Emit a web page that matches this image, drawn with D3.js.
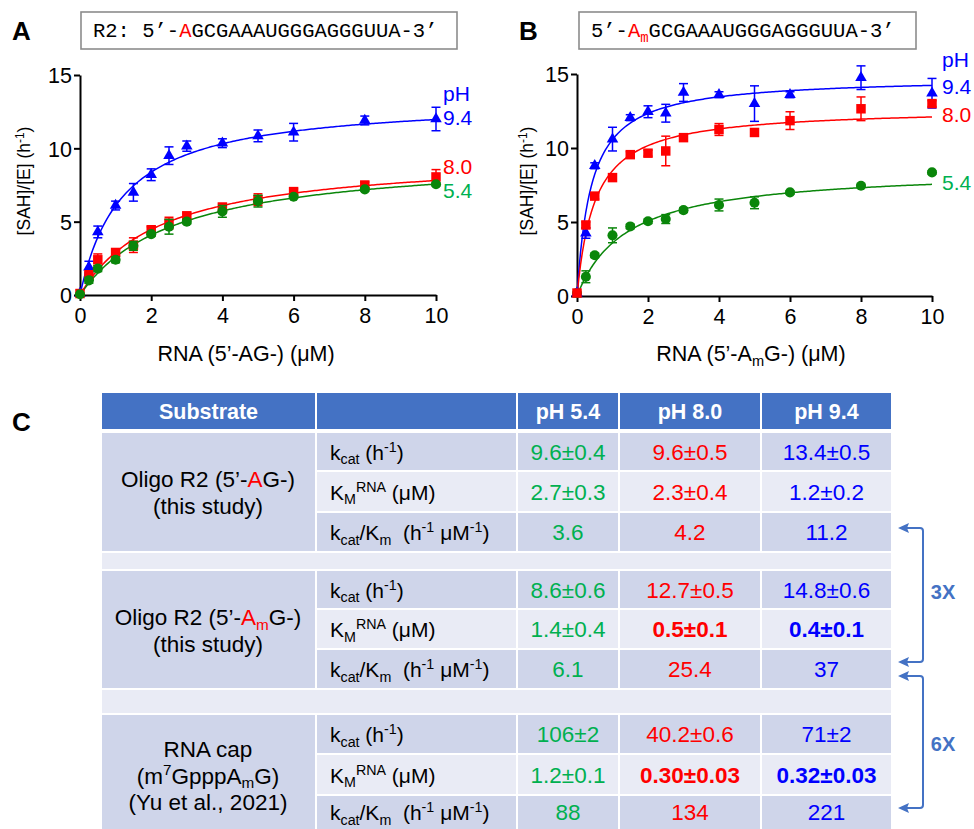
<!DOCTYPE html>
<html><head><meta charset="utf-8">
<script src="https://cdn.jsdelivr.net/npm/d3@7"></script>
<style>
body{margin:0;background:#fff}
svg{display:block;font-family:"Liberation Sans",Arial,sans-serif}
text{white-space:pre}
</style>
</head><body>
<svg id="c" width="974" height="829"></svg>
<script>
// ---------------- DATA ----------------
const concentrations = [0, 0.25, 0.5, 1, 1.5, 2, 2.5, 3, 4, 5, 6, 8, 10];
const phLabels = ["5.4", "8.0", "9.4"];
const xTicks = [0, 2, 4, 6, 8, 10];
const yTicks = [0, 5, 10, 15];

// Panel A: 5'-AG- substrate
const A_pH54 = [0.05, 1.0, 1.8, 2.4, 3.35, 4.15, 4.65, 5.0, 5.7, 6.4, 6.7, 7.2, 7.55];
const A_pH54_err = [0, 0.2, 0.2, 0.2, 0.3, 0.15, 0.5, 0.15, 0.4, 0.4, 0.1, 0.1, 0.1];
const A_pH80 = [0.1, 1.35, 2.4, 2.9, 3.4, 4.45, 4.9, 5.4, 6.0, 6.5, 7.05, 7.5, 8.05];
const A_pH80_err = [0, 0.3, 0.4, 0.2, 0.5, 0.2, 0.4, 0.2, 0.2, 0.4, 0.2, 0.2, 0.5];
const A_pH94 = [0.1, 1.9, 4.3, 6.1, 7.0, 8.2, 9.5, 10.15, 10.35, 10.85, 11.1, 11.9, 12.0];
const A_pH94_err = [0, 0.4, 0.4, 0.3, 0.6, 0.4, 0.6, 0.35, 0.3, 0.4, 0.6, 0.3, 0.8];

// Panel B: 5'-AmG- substrate
const B_pH54 = [0.2, 1.3, 2.75, 4.1, 4.7, 5.05, 5.2, 5.8, 6.15, 6.3, 7.0, 7.45, 8.35];
const B_pH54_err = [0, 0.4, 0.15, 0.5, 0.15, 0.15, 0.3, 0.15, 0.4, 0.4, 0.1, 0.1, 0.1];
const B_pH80 = [0.2, 4.8, 6.75, 8.0, 9.55, 9.65, 9.8, 10.7, 11.25, 11.05, 11.85, 12.65, 13.0];
const B_pH80_err = [0, 0.2, 0.2, 0.2, 0.2, 0.2, 1.0, 0.2, 0.4, 0.2, 0.6, 0.8, 0.2];
const B_pH94 = [0.2, 4.25, 8.8, 10.6, 12.05, 12.45, 12.35, 13.75, 13.6, 13.0, 13.6, 14.75, 13.7];
const B_pH94_err = [0, 0.35, 0.2, 0.8, 0.2, 0.4, 0.6, 0.6, 0.2, 1.2, 0.2, 0.8, 1.0];

// Kinetic parameters (Michaelis–Menten fits), order pH 5.4, 8.0, 9.4
const kcatA = [9.6, 9.6, 13.4];
const kmA = [2.7, 2.3, 1.2];
const kcatB = [8.6, 12.7, 14.8];
const kmB = [1.4, 0.5, 0.4];

// Table
const tableHeader = ["Substrate", "", "pH 5.4", "pH 8.0", "pH 9.4"];
const substrateLines = [
  [[["Oligo R2 (5’-"], ["A", "red"], ["G-)"]], [["(this study)"]]],
  [[["Oligo R2 (5’-"], ["A", "red"], ["m", "redsub"], ["G-)"]], [["(this study)"]]],
  [[["RNA cap"]], [["(m"], ["7", "sup"], ["GpppA"], ["m", "sub"], ["G)"]], [["(Yu et al., 2021)"]]]
];
const paramLabels = [
  [["k"], ["cat", "sub"], [" (h"], ["-1", "sup"], [")"]],
  [["K"], ["M", "sub"], ["RNA", "sup"], [" (μM)"]],
  [["k"], ["cat", "sub"], ["/K"], ["m", "sub"], ["  (h"], ["-1", "sup"], [" μM"], ["-1", "sup"], [")"]]
];
const tableValues = [
  [["9.6±0.4", "9.6±0.5", "13.4±0.5"], ["2.7±0.3", "2.3±0.4", "1.2±0.2"], ["3.6", "4.2", "11.2"]],
  [["8.6±0.6", "12.7±0.5", "14.8±0.6"], ["1.4±0.4", "0.5±0.1", "0.4±0.1"], ["6.1", "25.4", "37"]],
  [["106±2", "40.2±0.6", "71±2"], ["1.2±0.1", "0.30±0.03", "0.32±0.03"], ["88", "134", "221"]]
];
const boldValues = [
  [[0, 0, 0], [0, 0, 0], [0, 0, 0]],
  [[0, 0, 0], [0, 1, 1], [0, 0, 0]],
  [[0, 0, 0], [0, 1, 1], [0, 0, 0]]
];
const foldLabels = ["3X", "6X"];

// ---------------- STYLE ----------------
const markerColors = ["#0a860a", "#ff0000", "#0000ff"];
const labelColors = ["#00b050", "#ff0000", "#0000ff"];
const valueColors = ["#00b050", "#ff0000", "#0000ff"];
const symbols = [d3.symbolCircle, d3.symbolSquare, d3.symbolTriangle];
const symbolSizes = [80, 90, 58];
const accent = "#4472c4";

const svg = d3.select("#c");
const FONT = '"Liberation Sans",Arial,sans-serif';

function rich(textSel, parts, base) {
  let shift = 0;
  parts.forEach(([t, st]) => {
    st = st || "";
    const ts = textSel.append("tspan").text(t);
    let target = 0, fs = base;
    if (st.includes("sub")) { target = base * 0.22; fs = base * 0.68; }
    if (st.includes("sup")) { target = -base * 0.36; fs = base * 0.68; }
    const d = target - shift;
    if (d !== 0) ts.attr("dy", d);
    ts.style("font-size", fs + "px");
    if (st.includes("red")) ts.attr("fill", "#ff0000");
    shift = target;
  });
}

// ---------------- PANELS ----------------
function panel(cfg) {
  const x = d3.scaleLinear().domain([0, 10]).range([cfg.x0, cfg.x1]);
  const y = d3.scaleLinear().domain([0, 15]).range([cfg.y0, cfg.y1]);
  const g = svg.append("g");

  // axes
  const ax = g.append("g").attr("transform", `translate(0,${cfg.y0})`)
    .call(d3.axisBottom(x).tickValues(xTicks).tickSize(6).tickPadding(7).tickSizeOuter(0));
  const ay = g.append("g").attr("transform", `translate(${cfg.x0},0)`)
    .call(d3.axisLeft(y).tickValues(yTicks).tickSize(6).tickPadding(2).tickSizeOuter(0));
  [ax, ay].forEach(a => {
    a.selectAll("path,line").attr("stroke", "#000").attr("stroke-width", 2);
    a.selectAll("text").attr("font-family", FONT).style("font-size", "21.5px").attr("fill", "#000");
  });
  ay.selectAll("text").attr("dy", "0.36em");

  // fit curves
  const xs = d3.range(0, 10.001, 0.05);
  cfg.order.forEach(i => {
    const line = d3.line().x(d => x(d)).y(d => y(cfg.kcat[i] * d / (cfg.km[i] + d)));
    g.append("path").attr("d", line(xs)).attr("fill", "none")
      .attr("stroke", markerColors[i]).attr("stroke-width", 1.5);
  });

  // error bars + markers
  cfg.order.forEach(i => {
    const vals = cfg.series[i], errs = cfg.errs[i];
    const eg = g.append("g").attr("stroke", markerColors[i]).attr("stroke-width", 1.5);
    concentrations.forEach((c, k) => {
      const e = errs[k];
      if (!e) return;
      const cx = x(c), yt = y(vals[k] + e), yb = y(vals[k] - e);
      eg.append("line").attr("x1", cx).attr("x2", cx).attr("y1", yt).attr("y2", yb);
      eg.append("line").attr("x1", cx - 4.5).attr("x2", cx + 4.5).attr("y1", yt).attr("y2", yt);
      eg.append("line").attr("x1", cx - 4.5).attr("x2", cx + 4.5).attr("y1", yb).attr("y2", yb);
    });
    g.append("g").selectAll("path").data(concentrations).join("path")
      .attr("transform", (c, k) => `translate(${x(c)},${y(vals[k])})`)
      .attr("d", d3.symbol().type(symbols[i]).size(symbolSizes[i]))
      .attr("fill", markerColors[i]);
  });

  // pH labels
  g.append("text").attr("x", cfg.lx).attr("y", cfg.pHy).text("pH")
    .attr("fill", labelColors[2]).style("font-size", "21px");
  [0, 1, 2].forEach(i => {
    g.append("text").attr("x", cfg.lx).attr("y", cfg.ly[i]).text(phLabels[i])
      .attr("fill", labelColors[i]).style("font-size", "21px");
  });

  // axis titles
  const yt = g.append("text").attr("transform", `translate(${cfg.ytx},181) rotate(-90)`)
    .attr("text-anchor", "middle").style("font-size", "17.5px");
  rich(yt, [["[SAH]/[E] (h"], ["-1", "sup"], [")"]], 17.5);
  const xt = g.append("text").attr("x", cfg.xtx).attr("y", 361)
    .attr("text-anchor", "middle").style("font-size", "21.5px");
  rich(xt, cfg.xtitle, 21.5);

  // panel letter
  g.append("text").attr("x", cfg.letterX).attr("y", 40).text(cfg.letter)
    .style("font-size", "26px").attr("font-weight", "bold");

  // sequence box
  g.append("rect").attr("x", cfg.box[0]).attr("y", 12).attr("width", cfg.box[1] - cfg.box[0])
    .attr("height", 37).attr("fill", "#fff").attr("stroke", "#8c8c8c").attr("stroke-width", 1.6);
  const st = g.append("text").attr("x", cfg.seqX).attr("y", 37)
    .attr("font-family", '"Liberation Mono","Courier New",monospace').style("font-size", "20.5px");
  rich(st, cfg.seq, 20.5);
}

panel({
  x0: 80, x1: 436, y0: 295, y1: 75,
  series: [A_pH54, A_pH80, A_pH94], errs: [A_pH54_err, A_pH80_err, A_pH94_err],
  kcat: kcatA, km: kmA, order: [2, 1, 0],
  lx: 443, pHy: 101, ly: [198, 174, 125],
  ytx: 30, xtx: 246,
  xtitle: [["RNA (5’-AG-) (μM)"]],
  letter: "A", letterX: 12,
  box: [81, 457], seqX: 93,
  seq: [["R2: 5’-"], ["A", "red"], ["GCGAAAUGGGAGGGUUA-3’"]]
});
panel({
  x0: 577, x1: 932, y0: 296, y1: 74,
  series: [B_pH54, B_pH80, B_pH94], errs: [B_pH54_err, B_pH80_err, B_pH94_err],
  kcat: kcatB, km: kmB, order: [0, 2, 1],
  lx: 942, pHy: 67, ly: [190, 122, 94],
  ytx: 533, xtx: 751,
  xtitle: [["RNA (5’-A"], ["m", "sub"], ["G-) (μM)"]],
  letter: "B", letterX: 519,
  box: [579, 916], seqX: 591,
  seq: [["5’-"], ["A", "red"], ["m", "redsub"], ["GCGAAAUGGGAGGGUUA-3’"]]
});

// ---------------- TABLE ----------------
const colEdges = [101, 316, 517, 619, 761, 892];
const headerRow = [392, 430];
const groupRows = [
  [[432, 471], [471, 512], [512, 552]],
  [[570, 609], [609, 649], [649, 689]],
  [[714, 754], [754, 795], [795, 836]]
];
const spacers = [[552, 570], [689, 714]];
const DARK = "#cfd5ea", LIGHT = "#e9ebf5", GAP = 1;
const T = svg.append("g");

svg.append("text").attr("x", 12).attr("y", 431).text("C")
  .style("font-size", "26px").attr("font-weight", "bold");

function cell(x0, x1, y0, y1, fill) {
  T.append("rect").attr("x", x0 + GAP).attr("y", y0 + GAP)
    .attr("width", x1 - x0 - 2 * GAP).attr("height", y1 - y0 - 2 * GAP).attr("fill", fill);
}
// header
tableHeader.forEach((h, c) => {
  cell(colEdges[c], colEdges[c + 1], headerRow[0], headerRow[1], accent);
  if (h) T.append("text").attr("x", (colEdges[c] + colEdges[c + 1]) / 2).attr("y", 419)
    .attr("text-anchor", "middle").attr("fill", "#fff").attr("font-weight", "bold")
    .style("font-size", "21.5px").text(h);
});
spacers.forEach(s => cell(colEdges[0], colEdges[5], s[0], s[1], LIGHT));

const substrateOffsets = [-5, -4.5, -18];
groupRows.forEach((rows, gi) => {
  // merged substrate cell
  cell(colEdges[0], colEdges[1], rows[0][0], rows[2][1], DARK);
  const lines = substrateLines[gi];
  const midY = (rows[0][0] + rows[2][1]) / 2;
  const lh = 26.5;
  const startY = midY + substrateOffsets[gi];
  lines.forEach((ln, li) => {
    const t = T.append("text").attr("x", 208).attr("y", startY + li * lh)
      .attr("text-anchor", "middle").style("font-size", "22.5px").attr("fill", "#000");
    rich(t, ln, 22.5);
  });
  rows.forEach((r, ri) => {
    const fill = ri === 1 ? LIGHT : DARK;
    for (let c = 1; c < 5; c++) cell(colEdges[c], colEdges[c + 1], r[0], r[1], fill);
    const by = Math.min((r[0] + r[1]) / 2 + 8, 820);
    const pt = T.append("text").attr("x", 330).attr("y", by).style("font-size", "21px");
    rich(pt, paramLabels[ri], 21);
    tableValues[gi][ri].forEach((v, vi) => {
      T.append("text").attr("x", (colEdges[vi + 2] + colEdges[vi + 3]) / 2).attr("y", by)
        .attr("text-anchor", "middle").style("font-size", "22.5px")
        .attr("font-weight", boldValues[gi][ri][vi] ? "bold" : "normal")
        .attr("fill", valueColors[vi]).text(v);
    });
  });
});

// fold-change brackets
const brackets = [[528, 662], [676, 808]];
const bx = 923, tipX = 898;
brackets.forEach((b, i) => {
  const p = d3.path();
  p.moveTo(tipX + 8, b[0]);
  p.lineTo(bx - 3, b[0]);
  p.quadraticCurveTo(bx, b[0], bx, b[0] + 3);
  p.lineTo(bx, b[1] - 3);
  p.quadraticCurveTo(bx, b[1], bx - 3, b[1]);
  p.lineTo(tipX + 8, b[1]);
  T.append("path").attr("d", p.toString()).attr("fill", "none")
    .attr("stroke", accent).attr("stroke-width", 2);
  b.forEach(yy => {
    T.append("path").attr("d", `M${tipX},${yy} L${tipX + 11},${yy - 5} L${tipX + 9},${yy} L${tipX + 11},${yy + 5} Z`)
      .attr("fill", accent);
  });
  T.append("text").attr("x", 943).attr("y", i === 0 ? 599 : 751).attr("text-anchor", "middle")
    .attr("fill", accent).attr("font-weight", "bold").style("font-size", "20px").text(foldLabels[i]);
});
</script>
</body></html>
